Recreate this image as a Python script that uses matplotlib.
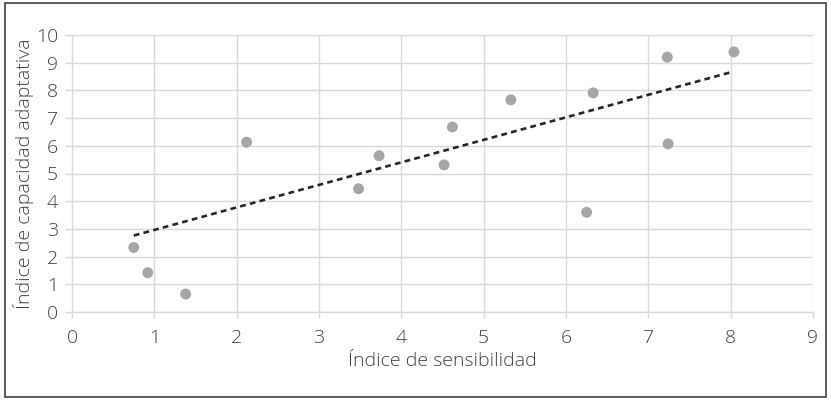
import matplotlib
matplotlib.use('Agg')
import matplotlib.pyplot as plt
from matplotlib.patches import Rectangle

# índice de sensibilidad / índice de capacidad adaptativa
sensibilidad = [0.75, 0.92, 1.38, 2.12, 3.48, 3.73, 4.52, 4.62, 5.33, 6.25, 6.33, 7.23, 7.24, 8.04]
capacidad = [2.33, 1.42, 0.65, 6.13, 4.45, 5.64, 5.31, 6.68, 7.66, 3.60, 7.91, 9.20, 6.07, 9.39]
# línea de tendencia (extremos)
tendencia_x = [0.75, 8.02]
tendencia_y = [2.76, 8.67]
x_ticks = list(range(0, 10))
y_ticks = list(range(0, 11))

plt.rcParams['font.family'] = ['Open Sans', 'DejaVu Sans']
txt = '#404040'
grid = '#d9d9d9'

fig = plt.figure(figsize=(8.31, 4.0), dpi=100)
ax = fig.add_axes([72 / 831, 1 - 312 / 400, (813 - 72) / 831, (312 - 35) / 400])

ax.plot(tendencia_x, tendencia_y, color='#262626', lw=1.9, ls=(0, (2.2, 1.6)), zorder=3)
ax.scatter(sensibilidad, capacidad, s=62, color='#a6a6a6', edgecolor='none', zorder=4)

ax.set_xlim(0, 9)
ax.set_ylim(0, 10)
ax.set_xticks(x_ticks)
ax.set_yticks(y_ticks)
ax.grid(True, color=grid, lw=1)
ax.set_axisbelow(True)
for s in ['top', 'right']:
    ax.spines[s].set_visible(False)
for s in ['left', 'bottom']:
    ax.spines[s].set_color(grid)
    ax.spines[s].set_linewidth(1)
ax.tick_params(colors=grid, labelcolor=txt, labelsize=14, width=1)
ax.tick_params(axis='y', length=5, pad=5)
ax.tick_params(axis='x', length=4, pad=8)
for lab in ax.get_xticklabels() + ax.get_yticklabels():
    lab.set_fontweight('light')

ax.set_xlabel('Índice de sensibilidad', fontsize=14, color=txt, labelpad=4, fontweight='light')
ax.set_ylabel('Índice de capacidad adaptativa', fontsize=14, color=txt, fontweight='light')
ax.yaxis.set_label_coords(-0.051, 0.5)

fig.patches.append(Rectangle((5 / 831, 3 / 400), 821 / 831, 394 / 400, transform=fig.transFigure,
                             fill=False, edgecolor='#404040', lw=1.2))

fig.savefig('out.png', dpi=100)
